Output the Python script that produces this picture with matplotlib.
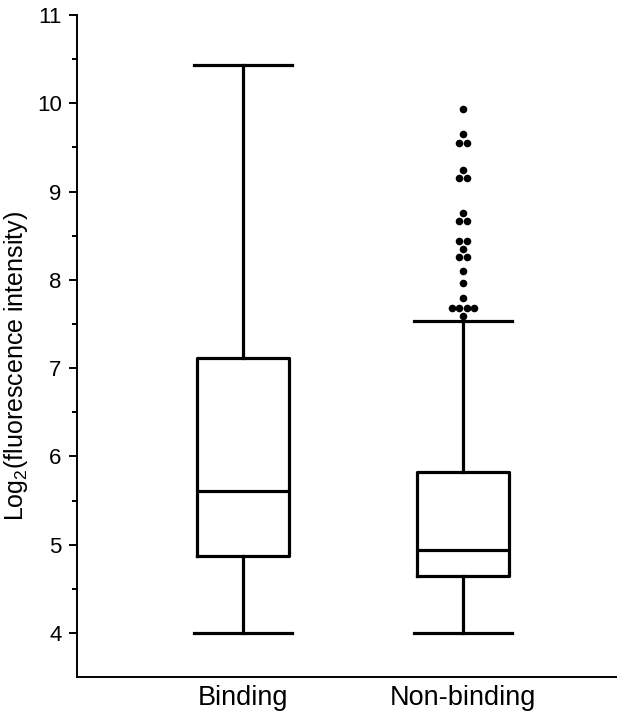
import matplotlib.pyplot as plt
from collections import Counter

plt.rcParams['font.family'] = ['Liberation Sans', 'DejaVu Sans']
plt.rcParams['mathtext.fontset'] = 'custom'
plt.rcParams['mathtext.rm'] = 'Liberation Sans'

groups = ["Binding", "Non-binding"]
whisker_low = [4.0, 4.0]
q1 = [4.87, 4.65]
median = [5.61, 4.94]
q3 = [7.11, 5.82]
whisker_high = [10.44, 7.53]

# outliers of the Non-binding group (repeated values are drawn side by side)
nonbinding_outliers = [9.94, 9.65, 9.55, 9.55, 9.25, 9.15, 9.15, 8.76, 8.67, 8.67,
                       8.44, 8.44, 8.35, 8.26, 8.26, 8.10, 7.96, 7.79,
                       7.68, 7.68, 7.68, 7.68, 7.59]

stats = []
for i, name in enumerate(groups):
    stats.append(dict(label=name, whislo=whisker_low[i], q1=q1[i], med=median[i],
                      q3=q3[i], whishi=whisker_high[i], fliers=[]))

fig = plt.figure(figsize=(6.23, 7.2), dpi=100)
ax = fig.add_axes([0.1236, 0.0597, 0.8654, 0.9193])

lw = 2.3
ax.bxp(stats, positions=[1, 2], widths=0.418, showfliers=False,
       boxprops=dict(linewidth=lw, color='black'),
       medianprops=dict(linewidth=lw, color='black'),
       whiskerprops=dict(linewidth=lw, color='black'),
       capprops=dict(linewidth=lw, color='black'),
       capwidths=0.445)

# spread duplicate outlier values horizontally
step = 0.034
xs, ys = [], []
counts = Counter(nonbinding_outliers)
for val, n in counts.items():
    for k in range(n):
        xs.append(2 + (k - (n - 1) / 2) * step)
        ys.append(val)
ax.scatter(xs, ys, s=30, color='black', zorder=3, linewidths=0)

ax.set_xlim(0.245, 2.695)
ax.set_ylim(3.5, 11)
ax.set_yticks(range(4, 12))
ax.set_yticks([4.5 + i for i in range(7)], minor=True)
ax.set_xticks([1, 2])
ax.set_xticklabels(groups, fontsize=19.5)
ax.tick_params(axis='x', length=0, pad=6)
ax.tick_params(axis='y', which='major', length=6, width=1.4, labelsize=16, pad=5)
ax.tick_params(axis='y', which='minor', length=3.5, width=1.4)
ax.set_ylabel("Log$_2$(fluorescence intensity)", fontsize=18)
ax.yaxis.set_label_coords(-0.088, 0.47)

for side in ['top', 'right']:
    ax.spines[side].set_visible(False)
for side in ['left', 'bottom']:
    ax.spines[side].set_linewidth(1.4)

plt.savefig("out.png", dpi=100)
plt.close()
